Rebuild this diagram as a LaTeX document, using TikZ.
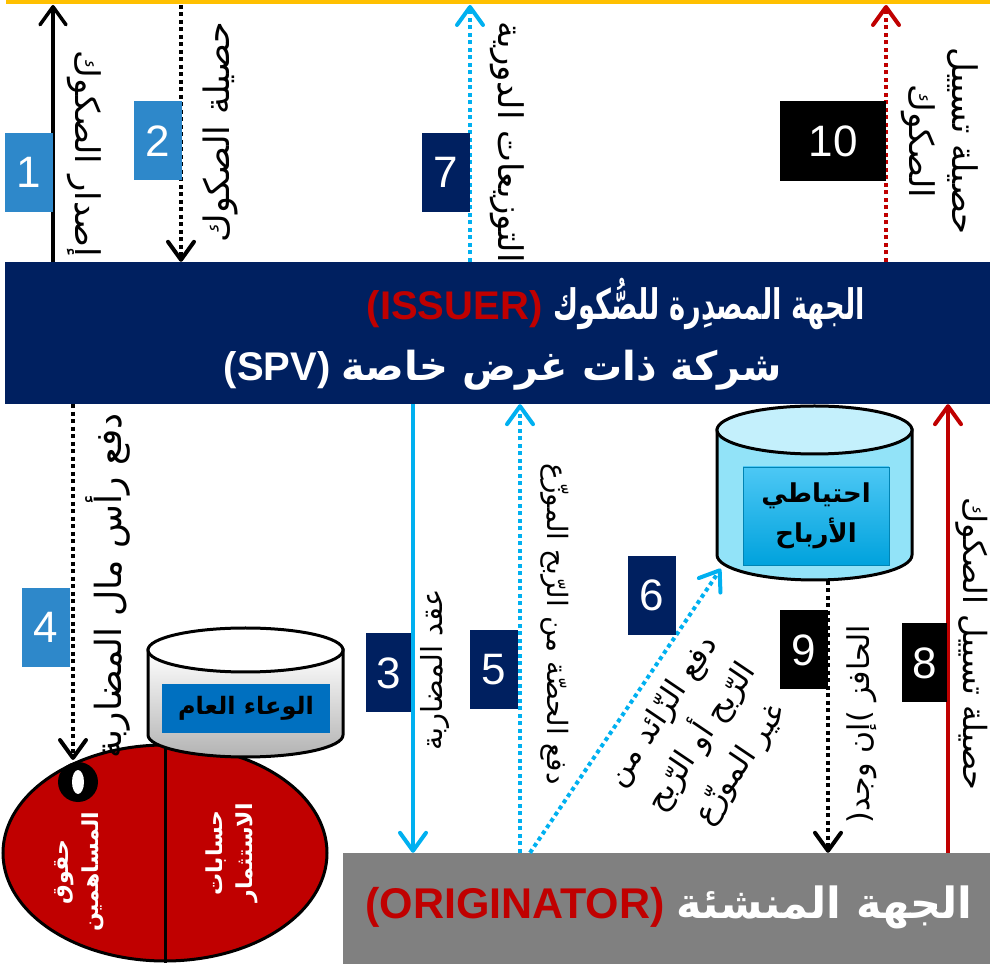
\documentclass[tikz,border=0pt]{standalone}
\usepackage{graphicx}
\usepackage{fontspec}
\setmainfont{Liberation Sans}
\newfontfamily\arabicfont[Script=Arabic]{DejaVu Sans}
\TeXXeTstate=1
\usetikzlibrary{arrows.meta,shapes.geometric}
\definecolor{navy}{HTML}{002060}
\definecolor{gold}{HTML}{FFC000}
\definecolor{stepblue}{HTML}{2E88CA}
\definecolor{skyline}{HTML}{00B0F0}
\definecolor{darkred}{HTML}{C00000}
\definecolor{poolblue}{HTML}{0070C0}
\definecolor{origingray}{HTML}{808080}
\definecolor{reservebody}{HTML}{92E3F8}
\definecolor{reservetop}{HTML}{C4F0FC}
\newcommand\rl[1]{\beginR #1\endR}

\begin{document}
\begin{tikzpicture}[x=1pt,y=1pt,
    numbox/.style={minimum width=48pt,minimum height=79pt,inner sep=0pt,text=white,
      font=\fontsize{44}{44}\selectfont},
    note/.style={font=\arabicfont\fontsize{#1}{43}\selectfont,inner sep=0pt,align=center},
    note/.default=32,
    head/.style={font=\bfseries\fontsize{40}{40}\selectfont,inner sep=0pt},
    white text/.style={font=\arabicfont\bfseries\fontsize{22}{30}\selectfont,text=white,inner sep=0pt,align=center},
    tipbarb/.style={-{Straight Barb[length=18pt,width=26pt,round]}},
    dotline/.style={line width=4pt,dash pattern=on 4pt off 3.5pt}]
\useasboundingbox (0,0) rectangle (990,964);

% top bar
\draw[gold,line width=5pt] (6,962) -- (990,962);
\coordinate (t1) at (53,959);
\coordinate (t2) at (181,959);
\coordinate (t7) at (470,959);
\coordinate (t10) at (886,959);

% the two parties
\node (issuer) [fill=navy,minimum width=985pt,minimum height=142pt,inner sep=0pt] at (497.5,631) {};
\node (origin) [fill=origingray,minimum width=647pt,minimum height=111pt,inner sep=0pt] at (666.5,55.5) {};
\node (issuerA) [head] at (616,660) {\textcolor{darkred}{(ISSUER)} \textcolor{white}{\scalebox{0.65}[1]{\fontsize{42}{42}\selectfont\arabicfont\rl{الجهة المصدِرة للصُّكوك}}}};
\node (issuerB) [head,text=white] at (503,594) {(SPV) {\arabicfont\rl{شركة ذات غرض خاصة}}};
\node (originA) [head,font=\bfseries\fontsize{43}{43}\selectfont] at (669,57) {\textcolor{darkred}{(ORIGINATOR)} \textcolor{white}{\arabicfont\rl{الجهة المنشئة}}};

% investors: pool and accounts
\node (holders) [ellipse,draw,fill=darkred,line width=3pt,minimum width=324pt,minimum height=216pt,inner sep=0pt] at (165,111) {};
\draw[line width=3pt] (holders.north) -- (holders.south);
\node (equity) [white text,rotate=90] at (79,92) {\rl{حقوق}\\\rl{المساهمين}};
\node (invest) [white text,rotate=90] at (232,111) {\rl{حسابات}\\\rl{الاستثمار}};
\node (dot) [circle,fill=black,minimum size=40pt,inner sep=0pt] at (78,182) {};
\fill[white] (dot.center) ellipse[x radius=6pt,y radius=12pt];

\node (pool) [minimum width=195pt,minimum height=129pt,inner sep=0pt] at (245.5,271.5) {};
\filldraw[top color=white,middle color=white,bottom color=black!30,line width=3pt] (148,314) -- (148,229) arc[start angle=180,end angle=360,x radius=97.5pt,y radius=22pt] -- (343,314) -- cycle;
\filldraw[fill=white,line width=3pt] (245.5,314) ellipse[x radius=97.5pt,y radius=22pt];
\node (poolA) [fill=poolblue,minimum width=168pt,minimum height=49pt,inner sep=0pt,
  font=\arabicfont\bfseries\fontsize{24}{24}\selectfont] at (246,255.5) {\rl{الوعاء العام}};

% profit reserve
\node (reserve) [minimum width=195pt,minimum height=174pt,inner sep=0pt] at (814.5,470.5) {};
\filldraw[fill=reservebody,line width=3pt] (717,534) -- (717,409) arc[start angle=180,end angle=360,x radius=97.5pt,y radius=25pt] -- (912,534) -- cycle;
\filldraw[fill=reservetop,line width=3pt] (814.5,534) ellipse[x radius=97.5pt,y radius=24pt];
\node (reserveA) [top color=skyline!70!white,bottom color=skyline!92!black,draw=skyline!75!black,
  minimum width=146pt,minimum height=98pt,inner sep=0pt,align=center,
  font=\arabicfont\bfseries\fontsize{26}{40}\selectfont] at (816,448) {\rl{احتياطي}\\\rl{الأرباح}};

% arrows above the issuer
\draw[tipbarb,line width=3.5pt] (issuer.north -| t1) -- (t1);
\draw[tipbarb,dotline] (t2) -- (issuer.north -| t2);
\draw[tipbarb,dotline,skyline] (issuer.north -| t7) -- (t7);
\draw[tipbarb,dotline,darkred] (issuer.north -| t10) -- (t10);

% arrows below the issuer
\coordinate (a4) at (73,204);
\coordinate (a3) at (413,0);
\coordinate (a5) at (520,0);
\coordinate (a6) at (530,0);
\coordinate (a9) at (828,0);
\coordinate (a8) at (948,0);
\draw[tipbarb,dotline] (issuer.south -| a4) -- (a4);
\draw[tipbarb,line width=4pt,skyline] (issuer.south -| a3) -- (origin.north -| a3);
\draw[tipbarb,dotline,skyline] (origin.north -| a5) -- (issuer.south -| a5);
\draw[tipbarb,dotline,skyline] (origin.north -| a6) -- ([shift={(4pt,12pt)}]reserve.south west);
\draw[tipbarb,dotline] (reserve.south -| a9) -- (origin.north -| a9);
\draw[tipbarb,line width=4pt,darkred] (origin.north -| a8) -- (issuer.south -| a8);

% step numbers
\node (n1) [numbox,fill=stepblue] at (29,791.5) {1};
\node (n2) [numbox,fill=stepblue] at (157.5,823) {2};
\node (n7) [numbox,fill=navy] at (445.5,791.5) {7};
\node (n10) [numbox,fill=black,minimum width=106pt,minimum height=80pt] at (833,823) {10};
\node (n4) [numbox,fill=stepblue] at (46,336.5) {4};
\node (n3) [numbox,fill=navy,minimum width=45pt] at (388.5,291) {3};
\node (n5) [numbox,fill=navy] at (493.5,294) {5};
\node (n6) [numbox,fill=navy] at (652,368.5) {6};
\node (n9) [numbox,fill=black] at (804,314) {9};
\node (n8) [numbox,fill=black,minimum width=45pt] at (924.5,301) {8};

% arrow texts
\node (l1) [note=34,rotate=-90] at (84,810) {\rl{إصدار الصكوك}};
\node (l2) [note=35,rotate=90] at (220,832) {\rl{حصيلة الصكوك}};
\node (l7) [note=34,rotate=-90] at (507,822) {\rl{التوزيعات الدورية}};
\node (l10) [note=34,rotate=-90] at (940,823) {\rl{حصيلة تسييل}\\\rl{الصكوك}};
\node (l4) [note=36,rotate=90] at (108,378) {\rl{دفع رأس مال المضاربة}};
\node (l3) [note=29,rotate=90] at (435,294) {\rl{عقد المضاربة}};
\node (l5) [note=28,rotate=-90] at (555,340) {\rl{دفع الحصّة من الرّبح الموزّع}};
\node (l6) [note=31,font=\arabicfont\fontsize{31}{47}\selectfont,rotate=56] at (702,226) {\rl{دفع الزّائد من}\\\rl{الرّبح أو الرّبح}\\\rl{غير الموزّع}};
\node (l9) [note=30,rotate=90] at (862,240) {(\rl{إن وجد}) \rl{الحافز}};
\node (l8) [note=32,rotate=-90] at (972,320) {\rl{حصيلة تسييل الصكوك}};
\end{tikzpicture}
\end{document}
